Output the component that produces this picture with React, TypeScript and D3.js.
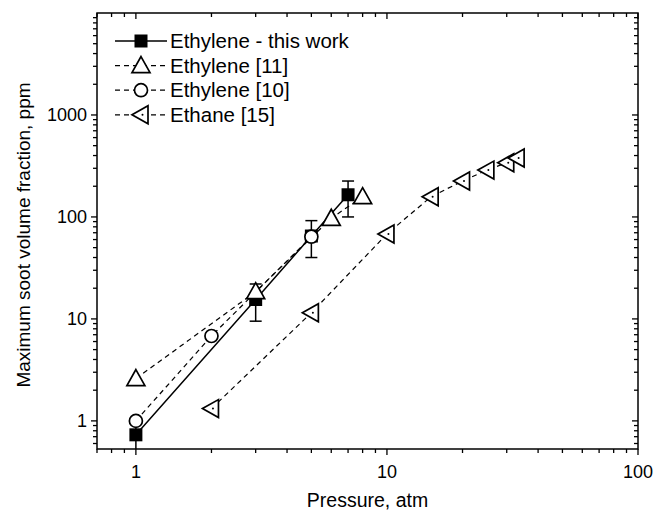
import React, { useEffect, useRef } from "react";
import * as d3 from "d3";

// Ethylene - this work (with error bars)
const thisP = [1, 3, 5, 7];
const thisF = [0.73, 15.5, 65, 165];
const thisLo = [0.53, 9.5, 40, 100];
const thisHi = [1.05, 22, 92, 225];

// Ethylene [11]
const ref11P = [1, 3, 6, 8];
const ref11F = [2.6, 18.5, 97, 158];

// Ethylene [10]
const ref10P = [1, 2, 5];
const ref10F = [1.0, 6.8, 64];

// Ethane [15]
const ethP = [2, 5, 10, 15, 20, 25, 30, 33];
const ethF = [1.32, 11.5, 68, 158, 225, 288, 340, 378];

const xTicks = [1, 10, 100];
const yTicks = [1, 10, 100, 1000];
const legendLabels = ["Ethylene - this work", "Ethylene [11]", "Ethylene [10]", "Ethane [15]"];

const W = 665;
const H = 514;
const FONT = "'Liberation Sans', Arial, sans-serif";

export default function App() {
  const ref = useRef<SVGSVGElement>(null);

  useEffect(() => {
    const svg = d3.select(ref.current);
    svg.selectAll("*").remove();

    const left = 97, right = 638, top = 13, bottom = 449;
    const x = d3.scaleLog().domain([0.7, 100]).range([left, right]);
    const y = d3.scaleLog().domain([0.53, 10000]).range([bottom, top]);

    const g = svg.append("g");

    // minor tick values
    const xMinor: number[] = [];
    [0.1, 1, 10].forEach((d) => {
      for (let k = 2; k <= 9; k++) {
        const v = d * k;
        if (v >= 0.7 && v <= 100) xMinor.push(v);
      }
    });
    const yMinor: number[] = [];
    [0.1, 1, 10, 100, 1000].forEach((d) => {
      for (let k = 2; k <= 9; k++) {
        const v = d * k;
        if (v >= 0.53 && v <= 10000) yMinor.push(v);
      }
    });

    const tickStroke = (sel: any) =>
      sel.attr("stroke", "#000").attr("stroke-width", 1.3);

    // bottom ticks (outward)
    g.selectAll(".xb").data(xTicks).join("line")
      .attr("x1", (d) => x(d)).attr("x2", (d) => x(d))
      .attr("y1", bottom).attr("y2", bottom + 6).call(tickStroke);
    g.selectAll(".xbm").data(xMinor).join("line")
      .attr("x1", (d) => x(d)).attr("x2", (d) => x(d))
      .attr("y1", bottom).attr("y2", bottom + 4).call(tickStroke);
    // top ticks (inward)
    g.selectAll(".xt").data(xTicks).join("line")
      .attr("x1", (d) => x(d)).attr("x2", (d) => x(d))
      .attr("y1", top).attr("y2", top + 6).call(tickStroke);
    g.selectAll(".xtm").data(xMinor).join("line")
      .attr("x1", (d) => x(d)).attr("x2", (d) => x(d))
      .attr("y1", top).attr("y2", top + 4).call(tickStroke);
    // left ticks (outward)
    g.selectAll(".yl").data(yTicks).join("line")
      .attr("y1", (d) => y(d)).attr("y2", (d) => y(d))
      .attr("x1", left).attr("x2", left - 6).call(tickStroke);
    g.selectAll(".ylm").data(yMinor).join("line")
      .attr("y1", (d) => y(d)).attr("y2", (d) => y(d))
      .attr("x1", left).attr("x2", left - 4).call(tickStroke);
    // right ticks (inward)
    g.selectAll(".yr").data(yTicks).join("line")
      .attr("y1", (d) => y(d)).attr("y2", (d) => y(d))
      .attr("x1", right).attr("x2", right - 6).call(tickStroke);
    g.selectAll(".yrm").data(yMinor).join("line")
      .attr("y1", (d) => y(d)).attr("y2", (d) => y(d))
      .attr("x1", right).attr("x2", right - 4).call(tickStroke);

    // frame
    g.append("rect")
      .attr("x", left).attr("y", top)
      .attr("width", right - left).attr("height", bottom - top)
      .attr("fill", "none").attr("stroke", "#000").attr("stroke-width", 1.5);

    // tick labels
    g.selectAll(".xl").data(xTicks).join("text")
      .attr("x", (d) => x(d)).attr("y", bottom + 29)
      .attr("text-anchor", "middle")
      .attr("font-family", FONT).attr("font-size", 18)
      .text((d) => String(d));
    g.selectAll(".yl2").data(yTicks).join("text")
      .attr("x", left - 10).attr("y", (d) => y(d) + 6.5)
      .attr("text-anchor", "end")
      .attr("font-family", FONT).attr("font-size", 18)
      .text((d) => String(d));

    // axis titles
    g.append("text")
      .attr("x", (left + right) / 2).attr("y", 507)
      .attr("text-anchor", "middle")
      .attr("font-family", FONT).attr("font-size", 19.5)
      .text("Pressure, atm");
    g.append("text")
      .attr("transform", `translate(30,${(top + bottom) / 2 + 4}) rotate(-90)`)
      .attr("text-anchor", "middle")
      .attr("font-family", FONT).attr("font-size", 19)
      .text("Maximum soot volume fraction, ppm");

    const line = d3.line<[number, number]>()
      .x((d) => x(d[0]))
      .y((d) => y(d[1]));
    const zip = (a: number[], b: number[]) => a.map((v, i) => [v, b[i]] as [number, number]);

    const plot = g.append("g");

    // markers
    const square = (sel: any, cx: number, cy: number) =>
      sel.append("rect").attr("x", cx - 6.5).attr("y", cy - 6.5)
        .attr("width", 13).attr("height", 13).attr("fill", "#000");
    const triUp = (sel: any, cx: number, cy: number) =>
      sel.append("path")
        .attr("d", `M${cx},${cy - 9}L${cx + 9},${cy + 7}L${cx - 9},${cy + 7}Z`)
        .attr("fill", "#fff").attr("stroke", "#000").attr("stroke-width", 1.7);
    const circ = (sel: any, cx: number, cy: number) =>
      sel.append("circle").attr("cx", cx).attr("cy", cy).attr("r", 6.5)
        .attr("fill", "#fff").attr("stroke", "#000").attr("stroke-width", 1.7);
    const triLeft = (sel: any, cx: number, cy: number) => {
      sel.append("path")
        .attr("d", `M${cx - 9},${cy}L${cx + 7},${cy - 9}L${cx + 7},${cy + 9}Z`)
        .attr("fill", "#fff").attr("stroke", "#000").attr("stroke-width", 1.7);
      sel.append("circle").attr("cx", cx + 1.5).attr("cy", cy).attr("r", 1)
        .attr("fill", "#000");
    };

    // this work
    plot.append("path").datum(zip(thisP, thisF)).attr("d", line)
      .attr("fill", "none").attr("stroke", "#000").attr("stroke-width", 1.5);
    thisP.forEach((p, i) => {
      const cx = x(p);
      plot.append("line").attr("x1", cx).attr("x2", cx)
        .attr("y1", y(thisLo[i])).attr("y2", y(thisHi[i]))
        .attr("stroke", "#000").attr("stroke-width", 1.5);
      [thisLo[i], thisHi[i]].forEach((v) => {
        if (v > 0.55)
          plot.append("line").attr("x1", cx - 6).attr("x2", cx + 6)
            .attr("y1", y(v)).attr("y2", y(v))
            .attr("stroke", "#000").attr("stroke-width", 1.5);
      });
      square(plot, cx, y(thisF[i]));
    });

    // dashed series
    const dashed = (px: number[], py: number[]) =>
      plot.append("path").datum(zip(px, py)).attr("d", line)
        .attr("fill", "none").attr("stroke", "#000").attr("stroke-width", 1.2)
        .attr("stroke-dasharray", "5,4");
    dashed(ref11P, ref11F);
    dashed(ref10P, ref10F);
    dashed(ethP, ethF);
    ref11P.forEach((p, i) => triUp(plot, x(p), y(ref11F[i])));
    ref10P.forEach((p, i) => circ(plot, x(p), y(ref10F[i])));
    ethP.forEach((p, i) => triLeft(plot, x(p), y(ethF[i])));

    // legend
    const lg = g.append("g");
    const rowY = (i: number) => 41 + i * 24.6;
    legendLabels.forEach((lab, i) => {
      const ly = rowY(i);
      lg.append("line").attr("x1", 115).attr("x2", 167)
        .attr("y1", ly).attr("y2", ly)
        .attr("stroke", "#000").attr("stroke-width", i === 0 ? 1.5 : 1.2)
        .attr("stroke-dasharray", i === 0 ? null : "5,4");
      if (i === 0) square(lg, 141, ly);
      if (i === 1) triUp(lg, 141, ly);
      if (i === 2) circ(lg, 141, ly);
      if (i === 3) triLeft(lg, 141, ly);
      lg.append("text").attr("x", 170).attr("y", ly + 7)
        .attr("font-family", FONT).attr("font-size", 20.5)
        .text(lab);
    });
  }, []);

  return (
    <svg ref={ref} width={W} height={H}
      style={{ position: "absolute", left: 0, top: 0, background: "#fff" }} />
  );
}
